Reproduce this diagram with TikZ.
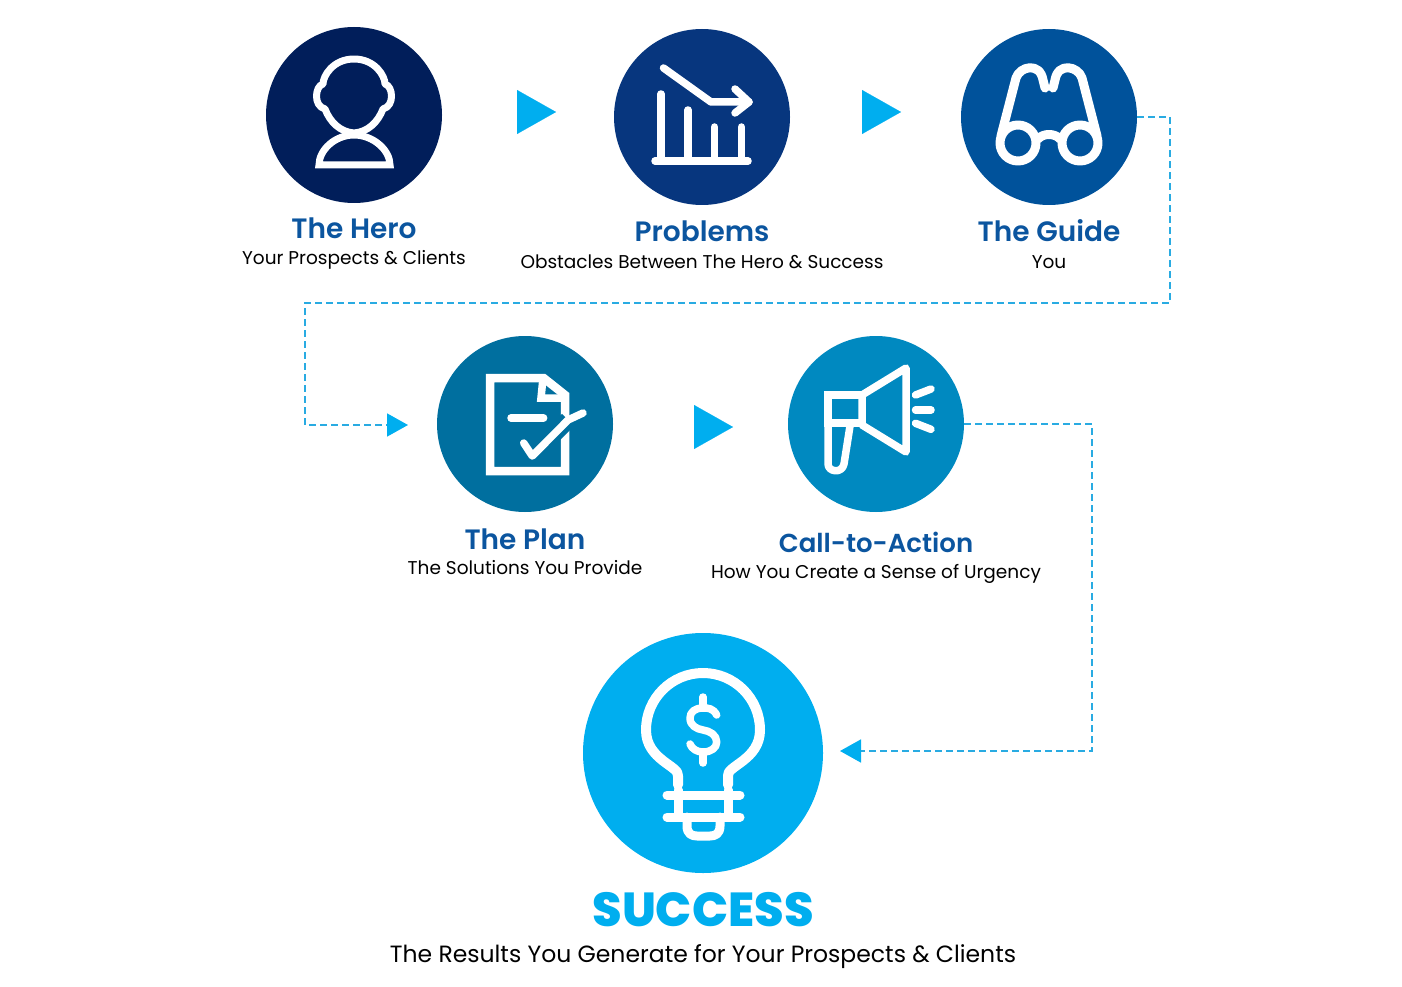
\documentclass[tikz,border=0pt]{standalone}
\usepackage{fontspec}
\setmainfont{Poppins}
\newfontfamily\titlefont{Poppins}[UprightFont=* SemiBold]
\newfontfamily\bigfont{Poppins}[UprightFont=* ExtraBold]
\usetikzlibrary{arrows.meta}
\definecolor{cHero}{HTML}{011E5A}
\definecolor{cProb}{HTML}{07367E}
\definecolor{cGuide}{HTML}{00529B}
\definecolor{cPlan}{HTML}{006F9F}
\definecolor{cCta}{HTML}{0089C0}
\definecolor{cSucc}{HTML}{00AEEF}
\definecolor{cTitle}{HTML}{0B559F}
\definecolor{cDash}{HTML}{29ABE2}
\tikzset{
 disc/.style={circle,inner sep=0pt,minimum size=176pt},
 ttl/.style={inner sep=0pt,text=cTitle,font=\titlefont\fontsize{28}{30}\selectfont},
 sub/.style={inner sep=0pt,text=black,font=\fontsize{18.5}{20}\selectfont},
 ico/.style={draw=white,line width=7.5pt,line cap=round,line join=round},
 flow/.style={draw=cSucc,fill=cSucc,line width=0.1pt,-{Triangle[length=39pt,width=44pt]}},
 dashline/.style={draw=cDash,line width=1.7pt,dash pattern=on 6.5pt off 4.5pt},
 dashtip/.style={-{Triangle[length=21pt,width=23pt,color=cSucc]}}
}
\begin{document}
\begin{tikzpicture}[x=1pt,y=-1pt]
\useasboundingbox (0,0) rectangle (1402,987);
% discs
\node[disc,fill=cHero] (hero) at (354,115) {};
\node[disc,fill=cProb] (prob) at (702,117) {};
\node[disc,fill=cGuide] (guide) at (1049,117) {};
\node[disc,fill=cPlan] (plan) at (525,424) {};
\node[disc,fill=cCta] (cta) at (876,424) {};
\node[disc,fill=cSucc,minimum size=240pt] (succ) at (703,753) {};
% labels
\node[ttl] (t1) at (354,228) {The Hero};
\node[sub] (s1) at (354,260) {Your Prospects \& Clients};
\node[ttl] (t2) at (702,231) {Problems};
\node[sub] (s2) at (702,262) {Obstacles Between The Hero \& Success};
\node[ttl] (t3) at (1049,231) {The Guide};
\node[sub] (s3) at (1049,262) {You};
\node[ttl] (t4) at (525,539) {The Plan};
\node[sub] (s4) at (525,568) {The Solutions You Provide};
\node[ttl,font=\titlefont\fontsize{26}{30}\selectfont] (t5) at (876,542) {Call-to-Action};
\node[sub] (s5) at (876,574) {How You Create a Sense of Urgency};
\node[inner sep=0pt,text=cSucc,font=\bigfont\fontsize{47.7}{50}\selectfont] (t6) at (703,910) {SUCCESS};
\node[inner sep=0pt,font=\fontsize{23.5}{26}\selectfont] (s6) at (703,957) {The Results You Generate for Your Prospects \& Clients};
% flow triangles
\coordinate (a1s) at (517,112); \coordinate (a1e) at (556,112);
\coordinate (a2s) at (862,112); \coordinate (a2e) at (901,112);
\coordinate (a3s) at (694,427); \coordinate (a3e) at (733,427);
\draw[flow] (a1s) -- (a1e);
\draw[flow] (a2s) -- (a2e);
\draw[flow] (a3s) -- (a3e);
% dashed connectors
\coordinate (g1) at (1170,117);
\coordinate (g2) at (1170,303);
\coordinate (g3) at (305,303);
\coordinate (g4) at (305,425);
\coordinate (g5) at (408,425);
\draw[dashline,dashtip] (guide.east) -- (g1) -- (g2) -- (g3) -- (g4) -- (g5);
\coordinate (k1) at (1092,424);
\coordinate (k2) at (1092,751);
\coordinate (k3) at (840,751);
\draw[dashline,dashtip] (cta.east) -- (k1) -- (k2) -- (k3);
% hero icon
\draw[ico,line width=7pt] (354,59) .. controls (333,59) and (323,76) .. (323,84)
  .. controls (315,86) and (313,106) .. (325,109)
  .. controls (330,122) and (340,132) .. (354,133)
  .. controls (368,132) and (378,122) .. (383,109)
  .. controls (395,106) and (393,86) .. (385,84)
  .. controls (385,76) and (375,59) .. (354,59) -- cycle;
\draw[ico,line width=7pt,line cap=butt,line join=miter] (319,165) .. controls (319,150) and (335,135) .. (354,135)
  .. controls (373,135) and (390,150) .. (390,165) -- cycle;
% problems icon
\draw[ico] (663.5,68) -- (711,102) -- (749,102);
\draw[ico] (735,89) -- (749,102) -- (735,113);
\draw[ico] (661,94) -- (661,160);
\draw[ico] (688,110) -- (688,160);
\draw[ico] (714.5,127) -- (714.5,160);
\draw[ico] (741.4,127) -- (741.4,160);
\draw[ico] (655,161) -- (748,161);
% guide icon
\draw[ico,line width=9pt] (1018,143) circle (18);
\draw[ico,line width=9pt] (1080,143) circle (18);
\draw[ico,line width=9pt] (1038,139) .. controls (1043,133) and (1055,133) .. (1060,139);
\draw[ico,line width=9pt] (1001,136) -- (1016,78) .. controls (1020,66) and (1040,62) .. (1043,80) -- (1045,88);
\draw[ico,line width=9pt] (1097,136) -- (1082,78) .. controls (1078,66) and (1058,62) .. (1055,80) -- (1053,88);
% plan icon
\draw[ico,line width=8.5pt,line join=miter] (490,378) -- (543.6,378) -- (565,395) -- (565,471) -- (490,471) -- cycle;
\draw[ico,line cap=butt,line join=miter] (543,378) -- (541,398) -- (565,398);
\draw[ico] (511,418) -- (543.6,418);
\draw[ico,draw=cPlan,line width=17pt,line cap=butt] (536,452) -- (568,420);
\draw[ico] (523.7,443) -- (532.3,456) -- (568,420) -- (583,413);
% cta icon
\draw[ico] (862,395) -- (906,368) -- (906,452) -- (862,425) -- cycle;
\draw[ico,line join=miter] (862,395) -- (828,395) -- (828,423) -- (862,423);
\draw[ico] (828,423) -- (828,464) .. controls (828,472) and (842,474) .. (844,464) -- (850,426);
\draw[ico] (915.5,395) -- (931,389);
\draw[ico] (915.5,410) -- (931,410);
\draw[ico] (915.5,423.3) -- (931,429.3);
% success icon
\draw[ico,line width=10pt] (678,785) -- (678,776) .. controls (680,766) and (646,760) .. (646,730)
  arc[start angle=180,end angle=360,radius=57]
  .. controls (760,760) and (726,766) .. (728,776) -- (728,785);
\draw[ico,line width=9pt] (667,795) -- (740,795);
\draw[ico,line width=9pt] (667,817) -- (740,817);
\draw[ico,line width=9pt] (678,790) -- (678,817);
\draw[ico,line width=9pt] (728,790) -- (728,817);
\draw[ico,line width=9pt] (687,817) -- (687,826) .. controls (687,834) and (692,836) .. (697,836) -- (710,836) .. controls (715,836) and (720,834) .. (720,826) -- (720,817);
\draw[ico,line width=7.5pt] (716.7,715) .. controls (713,708) and (708,708) .. (703,708)
  .. controls (695,708) and (690,712) .. (690,718)
  .. controls (690,726) and (697,729) .. (703,730)
  .. controls (710,731) and (716.7,735) .. (716.7,742)
  .. controls (716.7,748) and (711,752) .. (703,752)
  .. controls (697,752) and (692,749) .. (690,744);
\draw[ico,line width=7.5pt] (703,697) -- (703,708);
\draw[ico,line width=7.5pt] (703,752) -- (703,763);
\end{tikzpicture}
\end{document}
